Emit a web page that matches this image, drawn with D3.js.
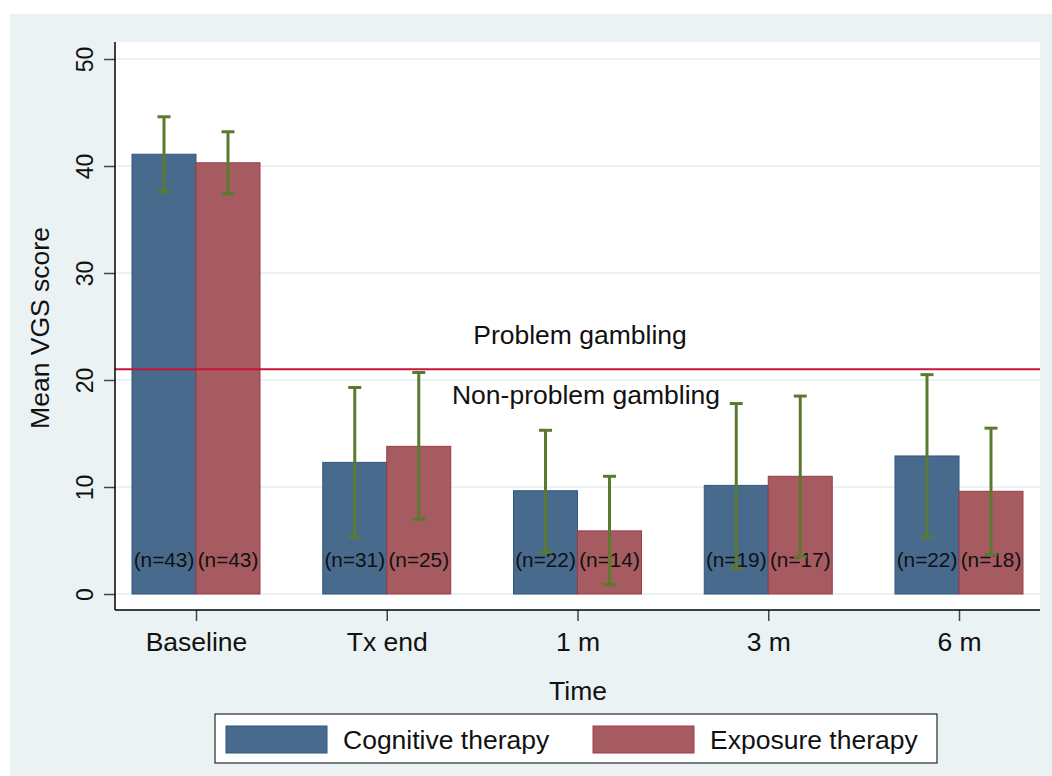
<!DOCTYPE html>
<html>
<head>
<meta charset="utf-8">
<script src="https://cdn.jsdelivr.net/npm/d3@7"></script>
<style>
  html, body { margin: 0; padding: 0; background: #ffffff; }
  svg { display: block; font-family: "Liberation Sans", Arial, sans-serif; }
</style>
</head>
<body>
<svg id="chart" width="1052" height="776"></svg>
<script>
// Time points and treatment groups
const timePoints = ["Baseline", "Tx end", "1 m", "3 m", "6 m"];
const groups = ["Cognitive therapy", "Exposure therapy"];

// Mean VGS score per time point
const cognitiveMean = [41.1, 12.3, 9.65, 10.15, 12.9];
const exposureMean  = [40.3, 13.8, 5.9, 11.0, 9.6];

// Confidence interval bounds
const cognitiveLow  = [37.6, 5.3, 3.9, 2.4, 5.3];
const cognitiveHigh = [44.6, 19.3, 15.3, 17.8, 20.5];
const exposureLow   = [37.4, 7.0, 0.87, 3.5, 3.7];
const exposureHigh  = [43.2, 20.7, 11.0, 18.5, 15.5];

// Sample sizes shown inside the bars
const cognitiveN = [43, 31, 22, 19, 22];
const exposureN  = [43, 25, 14, 17, 18];

// Cut-off for problem gambling
const cutoff = 21;
const yTicks = [0, 10, 20, 30, 40, 50];

const colors = {
  "Cognitive therapy": { fill: "#486a8c", stroke: "#2f5780" },
  "Exposure therapy":  { fill: "#a65b60", stroke: "#9e3a47" }
};

const rows = [];
timePoints.forEach((t, i) => {
  rows.push({ time: t, group: groups[0], mean: cognitiveMean[i], lo: cognitiveLow[i], hi: cognitiveHigh[i], n: cognitiveN[i] });
  rows.push({ time: t, group: groups[1], mean: exposureMean[i],  lo: exposureLow[i],  hi: exposureHigh[i],  n: exposureN[i] });
});

const svg = d3.select("#chart");

// plot geometry
const plot = { left: 115, right: 1040, top: 42, bottom: 610 };
const barW = 64;

// outer graph region
svg.append("rect")
  .attr("x", 10).attr("y", 14)
  .attr("width", 1052 - 10).attr("height", 776 - 14)
  .attr("fill", "#eaf2f3");

// inner plot region
svg.append("rect")
  .attr("x", plot.left).attr("y", plot.top)
  .attr("width", plot.right - plot.left).attr("height", plot.bottom - plot.top)
  .attr("fill", "#ffffff");

const y = d3.scaleLinear().domain([0, 50]).range([594, 59]);
const x = d3.scalePoint().domain(timePoints).range([196, 959]);
const xSub = d3.scaleBand().domain(groups).range([-barW, barW]);

// gridlines
svg.append("g")
  .selectAll("line")
  .data(yTicks)
  .join("line")
  .attr("x1", plot.left).attr("x2", plot.right)
  .attr("y1", d => y(d)).attr("y2", d => y(d))
  .attr("stroke", "#eaf2f3")
  .attr("stroke-width", 2);

// bars
svg.append("g")
  .selectAll("rect")
  .data(rows)
  .join("rect")
  .attr("x", d => x(d.time) + xSub(d.group))
  .attr("width", xSub.bandwidth())
  .attr("y", d => y(d.mean))
  .attr("height", d => y(0) - y(d.mean))
  .attr("fill", d => colors[d.group].fill)
  .attr("stroke", d => colors[d.group].stroke)
  .attr("stroke-width", 1);

// cut-off line
svg.append("line")
  .attr("x1", plot.left).attr("x2", plot.right)
  .attr("y1", y(cutoff)).attr("y2", y(cutoff))
  .attr("stroke", "#c8143c")
  .attr("stroke-width", 2);

svg.append("text")
  .attr("x", 580).attr("y", y(23.35))
  .attr("text-anchor", "middle")
  .attr("font-size", 26.5)
  .attr("fill", "#111")
  .text("Problem gambling");

svg.append("text")
  .attr("x", 586).attr("y", y(17.75))
  .attr("text-anchor", "middle")
  .attr("font-size", 26.5)
  .attr("fill", "#111")
  .text("Non-problem gambling");

// sample size labels
svg.append("g")
  .selectAll("text")
  .data(rows)
  .join("text")
  .attr("x", d => x(d.time) + xSub(d.group) + xSub.bandwidth() / 2)
  .attr("y", y(3.2))
  .attr("dy", "0.35em")
  .attr("text-anchor", "middle")
  .attr("font-size", 20.8)
  .attr("fill", "#111")
  .text(d => `(n=${d.n})`);

// error bars
const errG = svg.append("g")
  .attr("stroke", "#5b7a2f")
  .attr("stroke-width", 3);
const cx = d => x(d.time) + xSub(d.group) + xSub.bandwidth() / 2;
errG.selectAll("line.v")
  .data(rows).join("line").attr("class", "v")
  .attr("x1", cx).attr("x2", cx)
  .attr("y1", d => y(d.lo)).attr("y2", d => y(d.hi));
errG.selectAll("line.hi")
  .data(rows).join("line").attr("class", "hi")
  .attr("x1", d => cx(d) - 6.5).attr("x2", d => cx(d) + 6.5)
  .attr("y1", d => y(d.hi)).attr("y2", d => y(d.hi));
errG.selectAll("line.lo")
  .data(rows).join("line").attr("class", "lo")
  .attr("x1", d => cx(d) - 6.5).attr("x2", d => cx(d) + 6.5)
  .attr("y1", d => y(d.lo)).attr("y2", d => y(d.lo));

// y axis
const yAxis = svg.append("g")
  .attr("transform", `translate(${plot.left},0)`)
  .call(d3.axisLeft(y).tickValues(yTicks).tickSize(11).tickSizeOuter(0));
yAxis.select(".domain").remove();
yAxis.selectAll(".tick line").attr("stroke", "#444").attr("stroke-width", 1.5);
yAxis.selectAll(".tick text")
  .attr("font-size", 23)
  .attr("fill", "#111")
  .attr("font-family", "Liberation Sans, Arial, sans-serif")
  .attr("text-anchor", "middle")
  .attr("transform", "rotate(-90)")
  .attr("x", 0)
  .attr("y", -22)
  .attr("dy", 0);
svg.append("line")
  .attr("x1", plot.left).attr("x2", plot.left)
  .attr("y1", plot.top).attr("y2", plot.bottom)
  .attr("stroke", "#000").attr("stroke-width", 1.5);

// x axis
const xAxis = svg.append("g")
  .attr("transform", `translate(0,${plot.bottom})`)
  .call(d3.axisBottom(x).tickSize(11).tickSizeOuter(0));
xAxis.select(".domain").remove();
xAxis.selectAll(".tick line").attr("stroke", "#444").attr("stroke-width", 1.5);
xAxis.selectAll(".tick text")
  .attr("font-size", 26.5)
  .attr("fill", "#111")
  .attr("font-family", "Liberation Sans, Arial, sans-serif")
  .attr("y", 41)
  .attr("dy", 0);
svg.append("line")
  .attr("x1", plot.left).attr("x2", plot.right)
  .attr("y1", plot.bottom).attr("y2", plot.bottom)
  .attr("stroke", "#000").attr("stroke-width", 1.5);

// axis titles
svg.append("text")
  .attr("transform", `translate(49,${(plot.top + plot.bottom) / 2 + 2}) rotate(-90)`)
  .attr("text-anchor", "middle")
  .attr("font-size", 26.5)
  .attr("fill", "#111")
  .text("Mean VGS score");

svg.append("text")
  .attr("x", 578).attr("y", 700)
  .attr("text-anchor", "middle")
  .attr("font-size", 26.5)
  .attr("fill", "#111")
  .text("Time");

// legend
const legend = svg.append("g");
legend.append("rect")
  .attr("x", 215).attr("y", 714)
  .attr("width", 722).attr("height", 49)
  .attr("fill", "#ffffff")
  .attr("stroke", "#000")
  .attr("stroke-width", 1);
const legendItems = [
  { group: groups[0], sx: 226, tx: 343 },
  { group: groups[1], sx: 593, tx: 710 }
];
legend.selectAll("rect.sw")
  .data(legendItems).join("rect").attr("class", "sw")
  .attr("x", d => d.sx).attr("y", 726)
  .attr("width", 101).attr("height", 27)
  .attr("fill", d => colors[d.group].fill)
  .attr("stroke", d => colors[d.group].stroke)
  .attr("stroke-width", 1);
legend.selectAll("text")
  .data(legendItems).join("text")
  .attr("x", d => d.tx).attr("y", 740)
  .attr("dy", "0.35em")
  .attr("font-size", 26.5)
  .attr("fill", "#111")
  .text(d => d.group);
</script>
</body>
</html>
